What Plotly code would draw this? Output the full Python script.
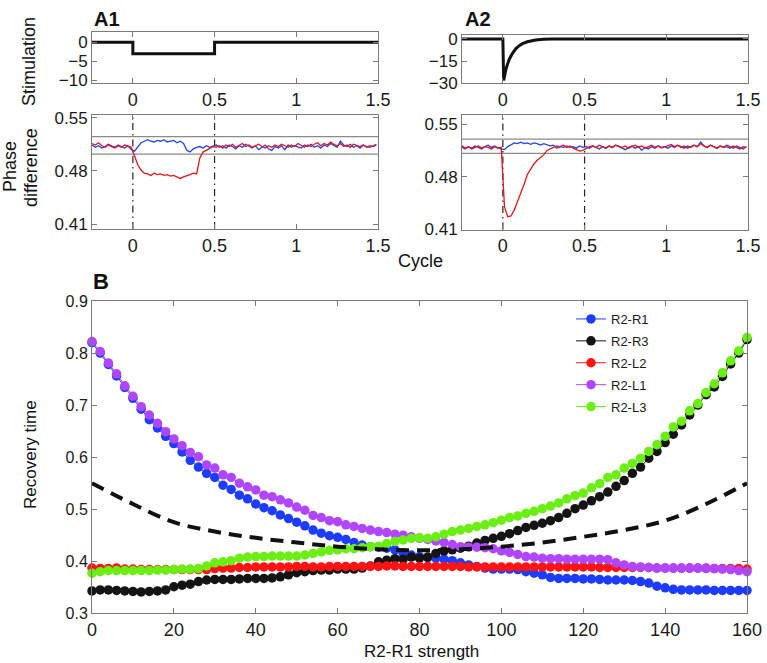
import numpy as np
import plotly.graph_objects as go

# ---------------- Panel A data ----------------
stim_a1_x = [-0.25, 0.0, 0.0, 0.5, 0.5, 1.5]
stim_a1_y = [0, 0, -3, -3, 0, 0]
stim_a2_x = [-0.25, 0.0, 0.005, 0.01, 0.02, 0.03, 0.04, 0.06, 0.08, 0.10, 0.12, 0.15, 0.20, 0.25, 0.30, 1.5]
stim_a2_y = [0, 0, -28, -25, -20, -16.5, -13.5, -9.5, -6.5, -4.5, -3.2, -1.9, -0.7, -0.2, 0, 0]
event_times = [0.0, 0.5]
a1_bounds = [0.502, 0.525]
a2_bounds = [0.511, 0.530]
phase_start = -0.25
phase_step = 0.02

a1_blue = [0.514, 0.511, 0.513, 0.510, 0.512, 0.515, 0.513, 0.511, 0.514, 0.512, 0.510, 0.513, 0.508,
           0.506, 0.512,
           0.517, 0.519, 0.521, 0.519, 0.518, 0.520, 0.519, 0.521, 0.518, 0.519, 0.520, 0.517, 0.519, 0.516,
           0.507, 0.505, 0.509, 0.511, 0.512, 0.510, 0.513, 0.511, 0.512,
           0.514, 0.511, 0.513, 0.510, 0.514, 0.512, 0.509, 0.513, 0.511, 0.515,
           0.512, 0.510, 0.513, 0.508, 0.511, 0.514, 0.509, 0.507, 0.512, 0.510,
           0.513, 0.508, 0.514, 0.511, 0.513, 0.512, 0.510, 0.514, 0.512, 0.515,
           0.511, 0.513, 0.510, 0.514, 0.512, 0.516, 0.513, 0.511, 0.519, 0.514,
           0.512, 0.515, 0.511, 0.513, 0.510, 0.514, 0.512, 0.511, 0.513, 0.515]
a1_red = [0.516, 0.514, 0.517, 0.513, 0.511, 0.514, 0.512, 0.510, 0.513, 0.511, 0.514, 0.512, 0.511,
          0.500, 0.488, 0.481, 0.477,
          0.476, 0.474, 0.477, 0.475, 0.476, 0.474, 0.475, 0.473, 0.474, 0.472, 0.470, 0.472,
          0.473, 0.475, 0.477, 0.476, 0.497, 0.505, 0.507, 0.510, 0.512,
          0.511, 0.513, 0.510, 0.514, 0.512, 0.515, 0.511, 0.513, 0.516, 0.512,
          0.514, 0.511, 0.513, 0.515, 0.512, 0.510, 0.513, 0.511, 0.514, 0.512,
          0.515, 0.513, 0.511, 0.514, 0.512, 0.516, 0.513, 0.511, 0.514, 0.512,
          0.515, 0.517, 0.513, 0.516, 0.514, 0.518, 0.515, 0.513, 0.516, 0.512,
          0.514, 0.511, 0.515, 0.513, 0.512, 0.514, 0.511, 0.513, 0.512, 0.514]
a2_blue = [0.519, 0.517, 0.520, 0.518, 0.521, 0.519, 0.517, 0.520, 0.522, 0.519, 0.521, 0.518, 0.517,
           0.516, 0.520,
           0.523, 0.525, 0.524, 0.526, 0.524, 0.525, 0.523, 0.525, 0.524, 0.522, 0.524, 0.523, 0.521, 0.522,
           0.518, 0.520, 0.519, 0.521, 0.519, 0.520, 0.518, 0.521, 0.519,
           0.520, 0.518, 0.521, 0.519, 0.517, 0.520, 0.518, 0.521, 0.519, 0.522,
           0.520, 0.518, 0.516, 0.519, 0.521, 0.518, 0.520, 0.515, 0.519, 0.517,
           0.520, 0.518, 0.521, 0.519, 0.520, 0.518, 0.521, 0.519, 0.522, 0.520,
           0.518, 0.521, 0.519, 0.522, 0.520, 0.526, 0.521, 0.519, 0.522, 0.520,
           0.518, 0.521, 0.519, 0.520, 0.518, 0.521, 0.519, 0.517, 0.520, 0.519]
a2_red = [0.521, 0.518, 0.520, 0.517, 0.519, 0.521, 0.518, 0.520, 0.519, 0.517, 0.520, 0.518, 0.519,
          0.440, 0.427, 0.428, 0.436, 0.447, 0.459, 0.470, 0.483, 0.490, 0.497, 0.502, 0.505, 0.509,
          0.515, 0.517, 0.519,
          0.521, 0.520, 0.522, 0.519, 0.521, 0.518, 0.516, 0.514, 0.515,
          0.518, 0.520, 0.521, 0.519, 0.522, 0.520, 0.518, 0.521, 0.519, 0.522,
          0.520, 0.519, 0.521, 0.518, 0.520, 0.522, 0.519, 0.521, 0.518, 0.520,
          0.522, 0.519, 0.521, 0.518, 0.520, 0.521, 0.523, 0.520, 0.522, 0.519,
          0.521, 0.518, 0.520, 0.522, 0.520, 0.524, 0.521, 0.519, 0.522, 0.520,
          0.518, 0.521, 0.519, 0.522, 0.520, 0.518, 0.521, 0.519, 0.517, 0.520]

# ---------------- Panel B data ----------------
strength = list(range(0, 161, 2))
r2_r1 = [0.820, 0.800, 0.778, 0.756, 0.734, 0.713, 0.692, 0.672, 0.656, 0.640,
         0.626, 0.610, 0.594, 0.581, 0.569, 0.561, 0.546, 0.538, 0.527, 0.520,
         0.510, 0.503, 0.497, 0.489, 0.482, 0.475, 0.468, 0.460, 0.454, 0.449,
         0.446, 0.442, 0.436, 0.431, 0.428, 0.427, 0.425, 0.422, 0.416, 0.412,
         0.409, 0.407, 0.406, 0.404, 0.401, 0.397, 0.393, 0.390, 0.387, 0.385,
         0.385, 0.385, 0.384, 0.380, 0.377, 0.374, 0.369, 0.367, 0.367, 0.367,
         0.366, 0.366, 0.365, 0.364, 0.364, 0.364, 0.363, 0.361, 0.358, 0.352,
         0.349, 0.346, 0.345, 0.345, 0.345, 0.345, 0.344, 0.344, 0.344, 0.344,
         0.344]
r2_r3 = [0.343, 0.345, 0.345, 0.344, 0.343, 0.342, 0.341, 0.342, 0.343, 0.345,
         0.351, 0.354, 0.356, 0.361, 0.364, 0.365, 0.365, 0.365, 0.366, 0.367,
         0.367, 0.367, 0.368, 0.370, 0.374, 0.378, 0.380, 0.382, 0.383, 0.383,
         0.385, 0.385, 0.385, 0.387, 0.391, 0.399, 0.402, 0.405, 0.404, 0.408,
         0.406, 0.408, 0.415, 0.420, 0.422, 0.425, 0.429, 0.435, 0.440, 0.444,
         0.448, 0.453, 0.459, 0.465, 0.469, 0.473, 0.478, 0.484, 0.492, 0.501,
         0.508, 0.516, 0.524, 0.533, 0.544, 0.555, 0.569, 0.581, 0.598, 0.611,
         0.628, 0.644, 0.662, 0.681, 0.700, 0.720, 0.735, 0.755, 0.779, 0.800,
         0.826]
r2_l2 = [0.387, 0.386, 0.386, 0.387, 0.385, 0.385, 0.384, 0.384, 0.384, 0.384,
         0.384, 0.384, 0.384, 0.384, 0.384, 0.386, 0.387, 0.387, 0.388, 0.388,
         0.389, 0.389, 0.389, 0.389, 0.389, 0.390, 0.390, 0.389, 0.389, 0.390,
         0.390, 0.390, 0.390, 0.390, 0.390, 0.390, 0.391, 0.391, 0.390, 0.390,
         0.390, 0.390, 0.390, 0.390, 0.390, 0.390, 0.389, 0.389, 0.389, 0.389,
         0.389, 0.389, 0.389, 0.389, 0.389, 0.389, 0.389, 0.389, 0.389, 0.389,
         0.389, 0.389, 0.388, 0.388, 0.388, 0.388, 0.388, 0.388, 0.388, 0.387,
         0.387, 0.387, 0.387, 0.387, 0.387, 0.387, 0.386, 0.386, 0.386, 0.386,
         0.385]
r2_l1 = [0.822, 0.803, 0.781, 0.760, 0.737, 0.717, 0.697, 0.681, 0.665, 0.649,
         0.635, 0.622, 0.609, 0.601, 0.585, 0.579, 0.566, 0.561, 0.550, 0.543,
         0.537, 0.527, 0.524, 0.518, 0.512, 0.504, 0.498, 0.488, 0.484, 0.478,
         0.476, 0.470, 0.467, 0.463, 0.460, 0.457, 0.455, 0.452, 0.450, 0.447,
         0.444, 0.442, 0.439, 0.436, 0.432, 0.428, 0.427, 0.427, 0.426, 0.424,
         0.420, 0.417, 0.413, 0.409, 0.408, 0.406, 0.405, 0.405, 0.404, 0.404,
         0.404, 0.404, 0.404, 0.403, 0.397, 0.393, 0.390, 0.389, 0.388, 0.387,
         0.387, 0.387, 0.387, 0.387, 0.387, 0.386, 0.386, 0.385, 0.384, 0.382,
         0.380]
r2_l3 = [0.377, 0.380, 0.382, 0.382, 0.382, 0.382, 0.382, 0.382, 0.383, 0.383,
         0.384, 0.385, 0.385, 0.386, 0.391, 0.397, 0.399, 0.401, 0.406, 0.408,
         0.409, 0.409, 0.410, 0.410, 0.410, 0.410, 0.412, 0.415, 0.418, 0.421,
         0.422, 0.424, 0.424, 0.426, 0.428, 0.429, 0.434, 0.438, 0.441, 0.444,
         0.445, 0.444, 0.447, 0.452, 0.457, 0.460, 0.463, 0.467, 0.470, 0.474,
         0.479, 0.484, 0.487, 0.492, 0.496, 0.501, 0.506, 0.512, 0.520, 0.526,
         0.531, 0.541, 0.549, 0.561, 0.566, 0.579, 0.588, 0.598, 0.611, 0.624,
         0.640, 0.658, 0.669, 0.689, 0.703, 0.724, 0.741, 0.762, 0.785, 0.804,
         0.830]
mean_strength = [0, 10, 20, 30, 40, 50, 60, 70, 80, 90, 100, 110, 120, 130, 140, 150, 160]
mean_recovery = [0.550, 0.510, 0.475, 0.457, 0.445, 0.436, 0.428, 0.423, 0.421,
                 0.423, 0.428, 0.436, 0.447, 0.460, 0.478, 0.510, 0.550]

series_names = ["R2-R1", "R2-R3", "R2-L2", "R2-L1", "R2-L3"]
series_values = [r2_r1, r2_r3, r2_l2, r2_l1, r2_l3]
series_colors = ["#1e3cff", "#141414", "#ff1414", "#b046ff", "#6aee14"]

FONT = "Arial, 'Liberation Sans', sans-serif"
AXC = "#7a7a7a"
TXT = "#1a1a1a"

def phase_x(vals):
    return [round(phase_start + phase_step * k, 3) for k in range(len(vals))]

fig = go.Figure()

# stimulation traces
fig.add_trace(go.Scatter(x=stim_a1_x, y=stim_a1_y, mode="lines", line=dict(color="#111", width=3),
                         xaxis="x", yaxis="y", showlegend=False))
fig.add_trace(go.Scatter(x=stim_a2_x, y=stim_a2_y, mode="lines", line=dict(color="#111", width=3),
                         xaxis="x2", yaxis="y2", showlegend=False))
# phase traces
for vals, col, ax in [(a1_blue, "#2244e6", "3"), (a1_red, "#e5141e", "3"),
                      (a2_blue, "#2244e6", "4"), (a2_red, "#e5141e", "4")]:
    fig.add_trace(go.Scatter(x=phase_x(vals), y=vals, mode="lines", line=dict(color=col, width=1.3),
                             xaxis="x" + ax, yaxis="y" + ax, showlegend=False))

# panel B
for name, vals, col in zip(series_names, series_values, series_colors):
    fig.add_trace(go.Scatter(x=strength, y=vals, mode="lines+markers", name=name,
                             line=dict(color=col, width=1),
                             marker=dict(color=col, size=9.5, line=dict(width=0)),
                             xaxis="x5", yaxis="y5", cliponaxis=False, legendgroup=name))
fig.add_trace(go.Scatter(x=mean_strength, y=mean_recovery, mode="lines", line_shape="spline",
                         line=dict(color="#111", width=4, dash="13px,8px"),
                         xaxis="x5", yaxis="y5", showlegend=False))

shapes = []
for ax, bounds in [("3", a1_bounds), ("4", a2_bounds)]:
    for b in bounds:
        shapes.append(dict(type="line", xref="x%s domain" % ax, yref="y" + ax, x0=0, x1=1, y0=b, y1=b,
                           line=dict(color="#8a8a8a", width=1.3), layer="below"))
    for t in event_times:
        shapes.append(dict(type="line", xref="x" + ax, yref="y%s domain" % ax, x0=t, x1=t, y0=0, y1=1,
                           line=dict(color="#222", width=1.2, dash="7px,4px,1.5px,4px"), layer="below"))

W, H = 767, 663
def px(x): return x / W
def py(y): return 1 - y / H

def axis_common(**kw):
    d = dict(showline=True, linecolor=AXC, linewidth=1, mirror="ticks", ticks="inside",
             ticklen=5, tickcolor=AXC, showgrid=False, zeroline=False, automargin=False,
             tickfont=dict(family=FONT, size=18, color=TXT))
    d.update(kw)
    return d

xA1 = [px(92), px(378)]
xA2 = [px(462), px(748)]
xticks = dict(tickvals=[0, 0.5, 1, 1.5], ticktext=["0", "0.5", "1", "1.5"], range=[-0.25, 1.5])

layout = dict(
    width=W, height=H, margin=dict(l=0, r=0, t=0, b=0, pad=0), autosize=False,
    paper_bgcolor="white", plot_bgcolor="white",
    xaxis=axis_common(domain=xA1, anchor="y", **xticks),
    yaxis=axis_common(domain=[py(83.3), py(32.3)], anchor="x", range=[-10.8, 2.65],
                      tickvals=[-10, -5, 0], tickfont=dict(family=FONT, size=17, color=TXT)),
    xaxis2=axis_common(domain=xA2, anchor="y2", **xticks),
    yaxis2=axis_common(domain=[py(83.3), py(35)], anchor="x2", range=[-30, 2.7],
                       tickvals=[-30, -15, 0], tickfont=dict(family=FONT, size=17, color=TXT)),
    xaxis3=axis_common(domain=xA1, anchor="y3", **xticks),
    yaxis3=axis_common(domain=[py(229), py(115)], anchor="x3", range=[0.4035, 0.5535],
                       tickvals=[0.41, 0.48, 0.55], ticktext=["0.41", "0.48", "0.55"],
                       tickfont=dict(family=FONT, size=17, color=TXT)),
    xaxis4=axis_common(domain=xA2, anchor="y4", **xticks),
    yaxis4=axis_common(domain=[py(229.5), py(115)], anchor="x4", range=[0.41, 0.562],
                       tickvals=[0.41, 0.48, 0.55], ticktext=["0.41", "0.48", "0.55"],
                       tickfont=dict(family=FONT, size=17, color=TXT)),
    xaxis5=axis_common(domain=[px(92), px(747)], anchor="y5", range=[0, 160],
                       tickvals=list(range(0, 161, 20))),
    yaxis5=axis_common(domain=[py(613.3), py(301)], anchor="x5", range=[0.3, 0.9],
                       tickvals=[0.3, 0.4, 0.5, 0.6, 0.7, 0.8, 0.9],
                       ticktext=["0.3", "0.4", "0.5", "0.6", "0.7", "0.8", "0.9"],
                       tickfont=dict(family=FONT, size=16, color=TXT)),
    shapes=shapes,
    legend=dict(x=px(571), y=py(304), xanchor="left", yanchor="top", bgcolor="rgba(0,0,0,0)",
                font=dict(family=FONT, size=13, color=TXT), tracegroupgap=2, borderwidth=0),
    showlegend=True,
)
fig.update_layout(**layout)

def ann(text, x, y, size, angle=0, bold=False):
    fig.add_annotation(text=("<b>%s</b>" % text) if bold else text, x=px(x), y=py(y),
                       xref="paper", yref="paper", showarrow=False, textangle=angle,
                       xanchor="center", yanchor="middle",
                       font=dict(family=FONT, size=size, color="#111"))

ann("A1", 107, 19, 20, bold=True)
ann("A2", 478, 19, 20, bold=True)
ann("B", 101, 281, 22, bold=True)
ann("Stimulation", 29, 62, 18, angle=-90)
ann("Phase", 10, 167, 18, angle=-90)
ann("difference", 31, 168, 18, angle=-90)
ann("Cycle", 420, 261, 18)
ann("Recovery time", 30, 455, 17, angle=-90)
ann("R2-R1 strength", 421, 651, 17)

fig.write_html("out.html", config={"displayModeBar": False},
               post_script="document.body.style.margin='0px';document.body.style.padding='0px';")
